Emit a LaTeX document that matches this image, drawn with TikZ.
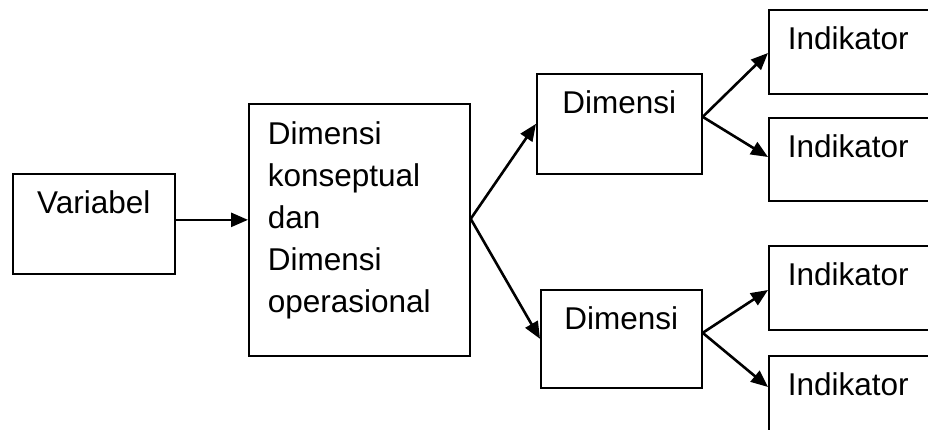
\documentclass[tikz,border=0pt]{standalone}
\usepackage{fontspec}
\setmainfont{Liberation Sans}
\usetikzlibrary{arrows.meta,calc}
\tikzset{
  box/.style={draw=black, line width=1.7pt, inner xsep=0pt, inner ysep=0pt,
    anchor=north west, font=\fontsize{31.5}{42}\selectfont, text height=40pt},
  cbox/.style={box, align=center},
  lbox/.style={box, align=left, inner xsep=19pt},
  arr/.style={draw=black, line width=2.6pt, -{Triangle[length=17pt,width=14pt]}}
}
\begin{document}
\begin{tikzpicture}[x=1pt,y=-1pt]
\useasboundingbox (0,0) rectangle (928,430);
\clip (0,0) rectangle (928,430);
\node[cbox, text width=162pt, text depth=60pt] (v) at (12,173) {Variabel};
\node[lbox, text width=183pt, text height=41pt, text depth=211pt] (b) at (248,103)
  {Dimensi\\konseptual\\dan\\Dimensi\\operasional};
\node[cbox, text width=165pt, text depth=60pt] (d1) at (536,73) {Dimensi};
\node[cbox, text width=161pt, text depth=58pt] (d2) at (540,289) {Dimensi};
\node[lbox, text width=160pt, text depth=44pt] (i1) at (768,9) {Indikator};
\node[lbox, text width=160pt, text depth=43pt] (i2) at (768,117) {Indikator};
\node[lbox, text width=160pt, text depth=44pt] (i3) at (768,245) {Indikator};
\node[lbox, text width=160pt, text depth=60pt] (i4) at (768,355) {Indikator};
\coordinate (va) at ([yshift=4pt]v.east);
\draw[arr] (va) -- (va -| b.west);
\coordinate (bo) at ([yshift=11pt]b.east);
\draw[arr] (bo) -- (d1.west);
\draw[arr] (bo) -- (d2.west);
\coordinate (d1o) at ([yshift=7pt]d1.east);
\draw[arr] (d1o) -- ($(i1.north west)+(0,44)$);
\draw[arr] (d1o) -- ($(i2.north west)+(0,40)$);
\coordinate (d2o) at ([yshift=6pt]d2.east);
\draw[arr] (d2o) -- ($(i3.north west)+(0,45)$);
\draw[arr] (d2o) -- ($(i4.north west)+(0,32)$);
\end{tikzpicture}
\end{document}
